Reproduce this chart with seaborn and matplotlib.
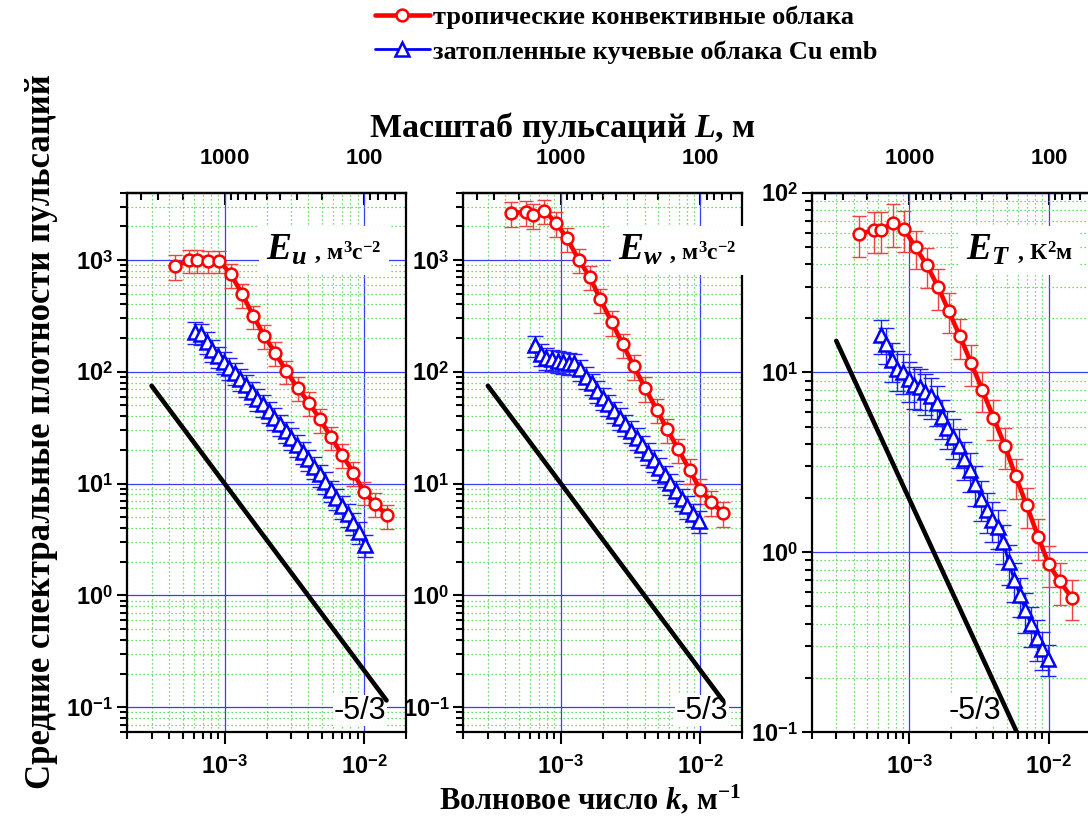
import numpy as np
import pandas as pd
import matplotlib
matplotlib.use("Agg")
import matplotlib.pyplot as plt
import seaborn as sns
from matplotlib.ticker import FixedLocator, LogLocator, NullFormatter, FuncFormatter
from matplotlib.offsetbox import TextArea, HPacker, AnchoredOffsetbox

# ---------------- data ----------------
k_trop = [4.4e-4, 5.6e-4, 6.3e-4, 7.6e-4, 9.2e-4, 1.11e-3, 1.34e-3, 1.61e-3, 1.92e-3, 2.31e-3,
          2.78e-3, 3.34e-3, 4.02e-3, 4.86e-3, 5.8e-3, 6.96e-3, 8.4e-3, 1.0e-2, 1.2e-2, 1.46e-2]
Eu_trop = [880, 1000, 1000, 980, 980, 745, 495, 316, 210, 148, 101, 72, 53, 37.5, 26, 18.2, 12.5, 8.4, 6.6, 5.2]
Eu_trop_err = [220, 230, 230, 220, 220, 180, 120, 75, 50, 35, 24, 17, 12.5, 9, 6.2, 4.4, 3.0, 2.0, 1.6, 1.3]
Ew_trop = [2620, 2710, 2530, 2770, 2160, 1560, 1010, 710, 445, 281, 176, 112, 72, 46, 30.5, 20.2, 13.2, 8.8, 6.85, 5.46]
Ew_trop_err = [650, 680, 630, 690, 540, 390, 250, 175, 110, 70, 44, 28, 18, 11.5, 7.6, 5.0, 3.3, 2.2, 1.7, 1.4]
ET_trop = [58.9, 62, 62, 68, 62.8, 49.6, 39.5, 29.9, 22, 15.9, 11.3, 8.0, 5.6, 3.9, 2.64, 1.82, 1.22, 0.86, 0.69, 0.56]
ET_trop_err = [15, 16, 16, 18, 16, 12, 10, 7.5, 5.5, 4, 2.9, 2.0, 1.4, 1.0, 0.66, 0.46, 0.31, 0.22, 0.18, 0.14]

k_emb_u = [6.17e-4, 6.78e-4, 7.44e-4, 8.16e-4, 8.96e-4, 9.84e-4, 1.08e-3, 1.19e-3, 1.30e-3, 1.43e-3,
           1.57e-3, 1.72e-3, 1.89e-3, 2.07e-3, 2.28e-3, 2.5e-3, 2.74e-3, 3.01e-3, 3.3e-3, 3.63e-3,
           3.98e-3, 4.37e-3, 4.8e-3, 5.27e-3, 5.78e-3, 6.34e-3, 6.96e-3, 7.64e-3, 8.39e-3, 9.21e-3, 1.01e-2]
Eu_emb = [228, 220, 186, 158, 138, 123, 109, 98, 87, 76, 66, 57.7, 51, 44.4, 38.7, 33.8, 29.4, 25.6, 22.3, 19.2,
          16.5, 14.1, 12.1, 10.4, 8.7, 7.44, 6.27, 5.31, 4.48, 3.69, 2.85]
Eu_emb_err = [50, 48, 41, 35, 30, 27, 24, 21.5, 19, 17, 14.5, 12.7, 11.2, 9.8, 8.5, 7.4, 6.5, 5.6, 4.9, 4.2,
              3.6, 3.1, 2.7, 2.3, 1.9, 1.6, 1.4, 1.2, 1.0, 0.8, 0.65]

k_emb_w = [6.52e-4, 7.16e-4, 7.86e-4, 8.63e-4, 9.47e-4, 1.04e-3, 1.14e-3, 1.25e-3, 1.37e-3, 1.51e-3,
           1.66e-3, 1.82e-3, 2.0e-3, 2.19e-3, 2.4e-3, 2.64e-3, 2.9e-3, 3.18e-3, 3.49e-3, 3.83e-3,
           4.2e-3, 4.62e-3, 5.07e-3, 5.56e-3, 6.1e-3, 6.7e-3, 7.36e-3, 8.07e-3, 8.87e-3, 9.73e-3]
Ew_emb = [173, 144, 134, 129, 126, 123, 120, 119, 105, 90, 78.7, 67.6, 58.9, 51.3, 44.4, 39, 34, 29.6, 25.8, 22,
          18.8, 16.2, 13.8, 11.9, 10.1, 8.6, 7.3, 6.27, 5.31, 4.63]
Ew_emb_err = [38, 32, 30, 28, 28, 27, 26, 26, 23, 20, 17, 15, 13, 11.3, 9.8, 8.6, 7.5, 6.5, 5.7, 4.8,
              4.1, 3.6, 3.0, 2.6, 2.2, 1.9, 1.6, 1.4, 1.2, 1.0]

k_emb_T = [6.27e-4, 6.87e-4, 7.51e-4, 8.24e-4, 9.05e-4, 9.89e-4, 1.09e-3, 1.19e-3, 1.30e-3, 1.43e-3,
           1.57e-3, 1.71e-3, 1.88e-3, 2.07e-3, 2.26e-3, 2.48e-3, 2.72e-3, 2.98e-3, 3.27e-3, 3.59e-3,
           3.92e-3, 4.31e-3, 4.73e-3, 5.16e-3, 5.67e-3, 6.22e-3, 6.81e-3, 7.47e-3, 8.2e-3, 8.96e-3, 9.84e-3]
ET_emb = [16.1, 14.4, 11.7, 10.5, 10.1, 9.15, 8.5, 8.32, 7.8, 7.38, 6.72, 5.66, 4.94, 4.38, 3.89, 3.32, 2.86,
          2.41, 1.99, 1.71, 1.52, 1.38, 1.14, 0.88, 0.70, 0.575, 0.475, 0.397, 0.334, 0.29, 0.255]
ET_emb_err = [3.5, 3.2, 2.8, 2.6, 2.5, 2.3, 2.2, 2.1, 2.0, 1.9, 1.7, 1.4, 1.2, 1.1, 0.95, 0.8, 0.7, 0.6, 0.5,
              0.43, 0.38, 0.34, 0.28, 0.22, 0.17, 0.14, 0.12, 0.1, 0.085, 0.07, 0.05]

# -5/3 reference lines (end points)
ref_k_uw = [3.0e-4, 1.45e-2]
ref_E_uw = [75, 0.115]
ref_k_T = [3.0e-4, 5.9e-3]
ref_E_T = [15, 0.1]

y_ticks_uw = [1e-1, 1e0, 1e1, 1e2, 1e3]
y_ticks_T = [1e-1, 1e0, 1e1, 1e2]
x_ticks = [1e-3, 1e-2]
top_ticks = [1000, 100]

label_trop = "тропические конвективные облака"
label_emb = "затопленные кучевые облака Cu emb"

# ---------------- style ----------------
sns.set_theme(style="white")
plt.rcParams.update({
    "font.family": ["Liberation Serif", "DejaVu Serif"],
    "text.color": "black",
    "mathtext.fontset": "custom",
    "mathtext.rm": "Liberation Sans:bold",
    "mathtext.it": "Liberation Serif:italic:bold",
    "mathtext.bf": "Liberation Serif:bold",
})

RED = "#ff0000"
BLUE = "#0000ff"

fig = plt.figure(figsize=(10.88, 8.25), dpi=100)
W, H = 1088.0, 825.0
ax_bottom = 93 / H
ax_height = 539.3 / H
ax_width = 279 / W
lefts = [127 / W, 463.3 / W, 811.7 / W]
axes = [fig.add_axes([l, ax_bottom, ax_width, ax_height]) for l in lefts]


def pow_fmt(v, p):
    return r"$10^{%d}$" % int(round(np.log10(v)))


def inv(x):
    x = np.asarray(x, dtype=float)
    out = np.full_like(x, np.inf)
    nz = x != 0
    out[nz] = 1.0 / x[nz]
    return out


def style_axis(ax, ylim, yticks):
    ax.set_xscale("log")
    ax.set_yscale("log")
    ax.set_xlim(2e-4, 2e-2)
    ax.set_ylim(*ylim)
    ax.xaxis.set_major_locator(FixedLocator(x_ticks))
    ax.xaxis.set_minor_locator(LogLocator(base=10, subs=np.arange(2, 10), numticks=50))
    ax.xaxis.set_major_formatter(FuncFormatter(pow_fmt))
    ax.xaxis.set_minor_formatter(NullFormatter())
    ax.yaxis.set_major_locator(FixedLocator(yticks))
    ax.yaxis.set_minor_locator(LogLocator(base=10, subs=np.arange(2, 10), numticks=50))
    ax.yaxis.set_major_formatter(FuncFormatter(pow_fmt))
    ax.yaxis.set_minor_formatter(NullFormatter())
    ax.set_axisbelow(True)
    ax.grid(which="major", color="#3c3cff", lw=0.9, ls="-")
    ax.grid(which="minor", color="#3ad23a", lw=0.9, ls=(0, (1, 2.2)))
    ax.tick_params(which="both", direction="out", bottom=True, left=True, top=False, right=False,
                   width=1.5, color="black", labelcolor="black")
    ax.tick_params(axis="x", which="major", length=8.5, labelsize=17, pad=8)
    ax.tick_params(axis="x", which="minor", length=5)
    ax.tick_params(axis="y", which="major", length=7, labelsize=17, pad=3)
    ax.tick_params(axis="y", which="minor", length=5)
    for s in ax.spines.values():
        s.set_visible(True)
        s.set_color("black")
        s.set_linewidth(1.6)
    sec = ax.secondary_xaxis("top", functions=(inv, inv))
    sec.xaxis.set_major_locator(FixedLocator(top_ticks))
    sec.xaxis.set_minor_locator(LogLocator(base=10, subs=np.arange(2, 10), numticks=50))
    sec.xaxis.set_major_formatter(FuncFormatter(lambda v, p: r"$%d$" % int(round(v))))
    sec.xaxis.set_minor_formatter(NullFormatter())
    sec.tick_params(which="both", direction="in", width=1.5, color="black", labelcolor="black")
    sec.tick_params(which="major", length=8.5, labelsize=16, pad=17)
    sec.tick_params(which="minor", length=5)
    sec.spines["top"].set_linewidth(1.6)
    sec.spines["top"].set_color("black")


def draw(ax, k_t, e_t, err_t, k_e, e_e, err_e, rk, re):
    ax.errorbar(k_t, e_t, yerr=err_t, fmt="none", ecolor="#f04040", elinewidth=1.0,
                capsize=5, capthick=1.0, zorder=3)
    ax.errorbar(k_e, e_e, yerr=err_e, fmt="none", ecolor="#2020ff", elinewidth=1.0,
                capsize=5.5, capthick=1.0, zorder=3)
    df_ref = pd.DataFrame({"k": rk, "E": re})
    sns.lineplot(data=df_ref, x="k", y="E", ax=ax, color="black", lw=3.3, zorder=4)
    df_e = pd.DataFrame({"k": k_e, "E": e_e})
    sns.lineplot(data=df_e, x="k", y="E", ax=ax, color=BLUE, lw=2.0, marker="^", ms=9.5,
                 mfc="white", mec=BLUE, mew=1.8, zorder=5, label=label_emb)
    df_t = pd.DataFrame({"k": k_t, "E": e_t})
    sns.lineplot(data=df_t, x="k", y="E", ax=ax, color=RED, lw=3.3, marker="o", ms=8.5,
                 mfc="white", mec=RED, mew=1.8, zorder=6, label=label_trop)
    leg = ax.get_legend()
    if leg is not None:
        leg.remove()
    ax.set_xlabel("")
    ax.set_ylabel("")


def e_label(ax, sym, unit, xy):
    ta1 = TextArea(sym, textprops=dict(size=27, color="black"))
    ta2 = TextArea(unit, textprops=dict(size=17, weight="bold", color="black"))
    box = HPacker(children=[ta1, ta2], align="baseline", pad=0, sep=1)
    ab = AnchoredOffsetbox(loc="center", child=box, pad=0.45, frameon=True, borderpad=0,
                           bbox_to_anchor=xy, bbox_transform=ax.transAxes,
                           prop=dict(size=12))
    ab.patch.set_facecolor("white")
    ab.patch.set_edgecolor("none")
    ab.set_zorder(7)
    ax.add_artist(ab)


def slope_label(ax, x):
    ax.text(x, 0.012, "-5/3", transform=ax.transAxes, ha="center", va="bottom",
            family="Liberation Sans", size=22, color="black", zorder=2,
            bbox=dict(facecolor="white", edgecolor="none", pad=0.5))


panels = [
    (axes[0], (0.06, 4000), y_ticks_uw, k_trop, Eu_trop, Eu_trop_err, k_emb_u, Eu_emb, Eu_emb_err,
     ref_k_uw, ref_E_uw, r"$E_{u}$", r" , м$^{\mathbf{3}}$с$^{\mathbf{-2}}$", (0.705, 0.893), 0.835),
    (axes[1], (0.06, 4000), y_ticks_uw, k_trop, Ew_trop, Ew_trop_err, k_emb_w, Ew_emb, Ew_emb_err,
     ref_k_uw, ref_E_uw, r"$E_{w}$", r" , м$^{\mathbf{3}}$с$^{\mathbf{-2}}$", (0.768, 0.893), 0.856),
    (axes[2], (0.1, 100), y_ticks_T, k_trop, ET_trop, ET_trop_err, k_emb_T, ET_emb, ET_emb_err,
     ref_k_T, ref_E_T, r"$E_{T}$", r" , К$^{\mathbf{2}}$м", (0.745, 0.893), 0.585),
]

for (ax, ylim, yt, kt, et, ert, ke, ee, ere, rk, re, sym, unit, lxy, sx) in panels:
    style_axis(ax, ylim, yt)
    draw(ax, kt, et, ert, ke, ee, ere, rk, re)
    ax.set_xlim(2e-4, 2e-2)
    ax.set_ylim(*ylim)
    e_label(ax, sym, unit, lxy)
    slope_label(ax, sx)

# legend
handles, labels = axes[0].get_legend_handles_labels()
order = [labels.index(label_trop), labels.index(label_emb)]
fig.legend([handles[i] for i in order], [labels[i] for i in order],
           loc="upper left", bbox_to_anchor=(0.343, 0.995), frameon=False,
           prop=dict(family="Liberation Serif", weight="bold", size=19),
           handlelength=2.1, handletextpad=0.1, labelspacing=0.42, borderpad=0.05,
           borderaxespad=0)

# figure-level axis titles
fig.text(562 / W, 1 - 128 / H, "Масштаб пульсаций $L$, м", ha="center", va="center",
         size=24.5, weight="bold")
fig.text(590 / W, 1 - 800 / H, r"Волновое число $k$, м$^{\mathbf{-1}}$", ha="center", va="center",
         size=22, weight="bold")
fig.text(42 / W, 1 - 432 / H, "Средние спектральные плотности пульсаций", ha="center", va="center",
         rotation=90, size=25, weight="bold")

fig.savefig("out.png", dpi=100)
